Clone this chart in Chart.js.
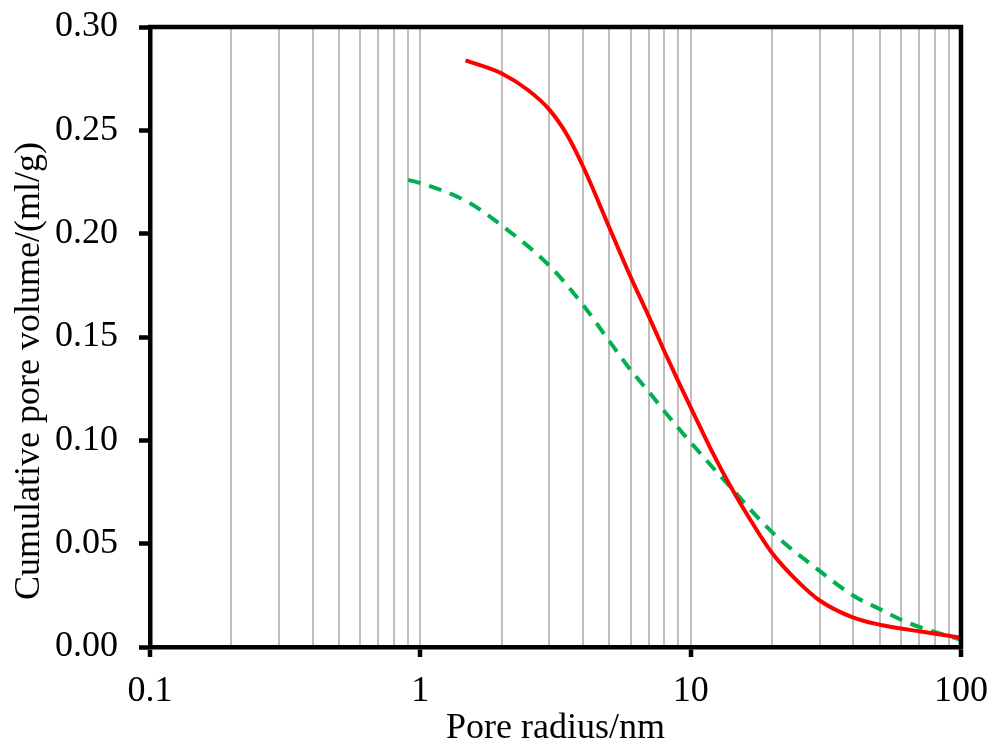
<!DOCTYPE html>
<html>
<head>
<meta charset="utf-8">
<script src="https://cdn.jsdelivr.net/npm/chart.js@4/dist/chart.umd.min.js"></script>
<style>
    html, body { margin: 0; padding: 0; background: #fff; }
    #wrap { width: 992px; height: 752px; }
</style>
</head>
<body>
<div id="wrap"><canvas id="poreChart" width="992" height="752"></canvas></div>
<script>
// pore radius (nm) and cumulative volume (ml/g)
const redRadius = [1.47, 2, 2.5, 3, 3.5, 4, 5, 6, 7, 8, 9, 10, 12, 14, 17, 20, 25, 30, 40, 50, 70, 100];
const redVolume = [0.2838, 0.2775, 0.2695, 0.260, 0.2475, 0.2325, 0.203, 0.179, 0.160, 0.143, 0.1285, 0.116, 0.0945, 0.078, 0.0595, 0.0455, 0.0315, 0.0225, 0.0142, 0.0108, 0.0076, 0.0045];

const greenRadius = [0.9, 1, 1.5, 2, 3, 4, 5, 6, 7, 8, 9, 10, 14, 20, 30, 40, 50, 60, 70, 80, 100];
const greenVolume = [0.226, 0.2245, 0.2153, 0.204, 0.1845, 0.1655, 0.148, 0.134, 0.1235, 0.114, 0.106, 0.099, 0.0775, 0.0556, 0.0368, 0.0248, 0.0184, 0.0132, 0.0097, 0.0073, 0.0035];

const xTickValues = [0.1, 0.2, 0.3, 0.4, 0.5, 0.6, 0.7, 0.8, 0.9,
    1, 2, 3, 4, 5, 6, 7, 8, 9,
    10, 20, 30, 40, 50, 60, 70, 80, 90, 100];
const xMajorTicks = [0.1, 1, 10, 100];
const yTickValues = [0, 0.05, 0.10, 0.15, 0.20, 0.25, 0.30];

const yTitle = 'Cumulative pore volume/(ml/g)';
const serif = '"Liberation Serif", "Times New Roman", serif';
const AXIS_W = 4.5;

function toPoints(xs, ys) {
    return xs.map((x, i) => ({ x: x, y: ys[i] }));
}

function isMajor(v) {
    return xMajorTicks.some(m => Math.abs(m - v) < 1e-9);
}

// top/right frame + y title (sits a bit lower than the plot centre in the original)
const framePlugin = {
    id: 'frame',
    afterDatasetsDraw(chart) {
        const a = chart.chartArea;
        const ctx = chart.ctx;
        ctx.save();
        ctx.strokeStyle = '#000';
        ctx.lineWidth = AXIS_W;
        ctx.beginPath();
        ctx.moveTo(a.left - AXIS_W / 2, a.top);
        ctx.lineTo(a.right, a.top);
        ctx.lineTo(a.right, a.bottom + AXIS_W / 2);
        ctx.stroke();

        ctx.translate(30, 371);
        ctx.rotate(-Math.PI / 2);
        ctx.fillStyle = '#000';
        ctx.font = '36px ' + serif;
        ctx.textAlign = 'center';
        ctx.textBaseline = 'middle';
        ctx.fillText(yTitle, 0, 0);
        ctx.restore();
    }
};

const ctx = document.getElementById('poreChart');
new Chart(ctx, {
    type: 'line',
    data: {
        datasets: [
            {
                label: 'red',
                data: toPoints(redRadius, redVolume),
                borderColor: '#FF0000',
                borderWidth: 4,
                pointRadius: 0,
                cubicInterpolationMode: 'monotone',
                fill: false
            },
            {
                label: 'green',
                data: toPoints(greenRadius, greenVolume),
                borderColor: '#00B050',
                borderWidth: 4,
                borderDash: [13, 9],
                pointRadius: 0,
                cubicInterpolationMode: 'monotone',
                fill: false
            }
        ]
    },
    options: {
        responsive: false,
        animation: false,
        layout: {
            padding: { left: 0, right: 31, top: 27, bottom: 0 }
        },
        plugins: {
            legend: { display: false },
            tooltip: { enabled: false }
        },
        scales: {
            x: {
                type: 'logarithmic',
                min: 0.1,
                max: 100,
                afterBuildTicks: function (scale) {
                    scale.ticks = xTickValues.map(v => ({ value: v, major: isMajor(v) }));
                },
                afterFit: function (scale) {
                    scale.height = 752 - 647;
                    scale.paddingLeft = 0;
                    scale.paddingRight = 0;
                },
                border: { display: true, color: '#000', width: AXIS_W },
                grid: {
                    color: '#BFBFBF',
                    lineWidth: 2,
                    drawTicks: true,
                    tickLength: 10,
                    tickWidth: AXIS_W,
                    tickColor: function (c) {
                        return c.tick && isMajor(c.tick.value) ? '#000' : 'rgba(0,0,0,0)';
                    }
                },
                ticks: {
                    autoSkip: false,
                    maxRotation: 0,
                    padding: 13,
                    color: '#000',
                    font: { family: serif, size: 36 },
                    callback: function (value) {
                        return isMajor(value) ? String(value) : '';
                    }
                },
                title: {
                    display: true,
                    text: 'Pore radius/nm',
                    color: '#000',
                    font: { family: serif, size: 36 },
                    padding: { top: 2, bottom: 2 }
                }
            },
            y: {
                min: 0,
                max: 0.3,
                afterBuildTicks: function (scale) {
                    scale.ticks = yTickValues.map(v => ({ value: v }));
                },
                afterFit: function (scale) {
                    scale.width = 150;
                    scale.paddingTop = 0;
                    scale.paddingBottom = 0;
                },
                border: { display: true, color: '#000', width: AXIS_W },
                grid: {
                    drawOnChartArea: false,
                    drawTicks: true,
                    tickLength: 11,
                    tickWidth: AXIS_W,
                    tickColor: '#000'
                },
                ticks: {
                    padding: 21,
                    color: '#000',
                    font: { family: serif, size: 36 },
                    callback: function (value) {
                        return value.toFixed(2);
                    }
                },
                title: { display: false }
            }
        }
    },
    plugins: [framePlugin]
});
</script>
</body>
</html>
